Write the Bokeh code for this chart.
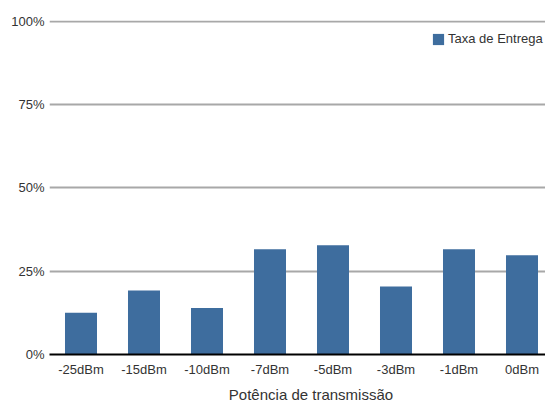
from bokeh.plotting import figure
from bokeh.models import ColumnDataSource, Range1d, FixedTicker, CustomJSTickFormatter, Legend, LegendItem, Div
from bokeh.layouts import column
from bokeh.embed import file_html
from bokeh.resources import INLINE

categories = ["-25dBm", "-15dBm", "-10dBm", "-7dBm", "-5dBm", "-3dBm", "-1dBm", "0dBm"]
taxa_entrega = [12.5, 19.2, 14.0, 31.6, 32.8, 20.4, 31.6, 29.8]
y_ticks = [0, 25, 50, 75, 100]
series_name = "Taxa de Entrega"
x_title = "Potência de transmissão"

FONT = "Liberation Sans"
TEXT = "#333333"
BAR = "#3e6d9e"

xpos = [i + 0.5 for i in range(len(categories))]
src = ColumnDataSource(dict(x=xpos, cat=categories, val=taxa_entrega))

p = figure(width=545, height=380, output_backend="svg", toolbar_location=None,
           x_range=Range1d(0, 496 / 63.0),
           y_range=Range1d(0, 100.3),
           min_border_left=49, min_border_right=0, min_border_top=20, min_border_bottom=26)
p.outline_line_color = None
p.background_fill_color = "white"
p.border_fill_color = "white"

r = p.vbar(x="x", top="val", width=0.508, source=src, fill_color=BAR, line_color=None)

p.yaxis.ticker = FixedTicker(ticks=y_ticks)
p.yaxis.formatter = CustomJSTickFormatter(code="return tick + '%';")
p.yaxis.axis_line_color = None
p.yaxis.major_tick_line_color = None
p.yaxis.minor_tick_line_color = None
p.yaxis.major_tick_out = 0
p.yaxis.major_tick_in = 0
p.yaxis.major_label_standoff = 5
p.yaxis.major_label_text_font = FONT
p.yaxis.major_label_text_font_size = "13px"
p.yaxis.major_label_text_color = TEXT

p.ygrid.grid_line_color = "#a8a8a8"
p.ygrid.grid_line_width = 2
p.ygrid.ticker = FixedTicker(ticks=[25, 50, 75, 100])
p.xgrid.grid_line_color = None

p.xaxis.ticker = FixedTicker(ticks=xpos)
p.xaxis.major_label_overrides = {x: c for x, c in zip(xpos, categories)}
p.xaxis.axis_line_color = "black"
p.xaxis.axis_line_width = 2
p.xaxis.major_tick_line_color = None
p.xaxis.minor_tick_line_color = None
p.xaxis.minor_tick_out = 0
p.xaxis.major_tick_out = 0
p.xaxis.major_tick_in = 0
p.xaxis.major_label_standoff = 7
p.xaxis.major_label_text_font = FONT
p.xaxis.major_label_text_font_size = "13px"
p.xaxis.major_label_text_color = TEXT

legend = Legend(items=[LegendItem(label=series_name, renderers=[r])], location=(382, 308),
                border_line_color=None, background_fill_alpha=0,
                label_text_font=FONT, label_text_font_size="13px", label_text_color=TEXT,
                glyph_width=14, glyph_height=14, label_standoff=3, padding=0, margin=0,
                label_height=14)
p.add_layout(legend)

title_div = Div(text=x_title, width=545, height=23, margin=0,
                styles={"font-family": FONT, "font-size": "15px", "color": TEXT,
                        "line-height": "15px", "text-align": "center",
                        "padding-top": "7px", "padding-left": "77px",
                        "box-sizing": "border-box", "width": "545px",
                        "height": "23px", "overflow": "visible"})

layout = column(p, title_div, spacing=0)

open("out.html", "w").write(file_html(layout, INLINE))
